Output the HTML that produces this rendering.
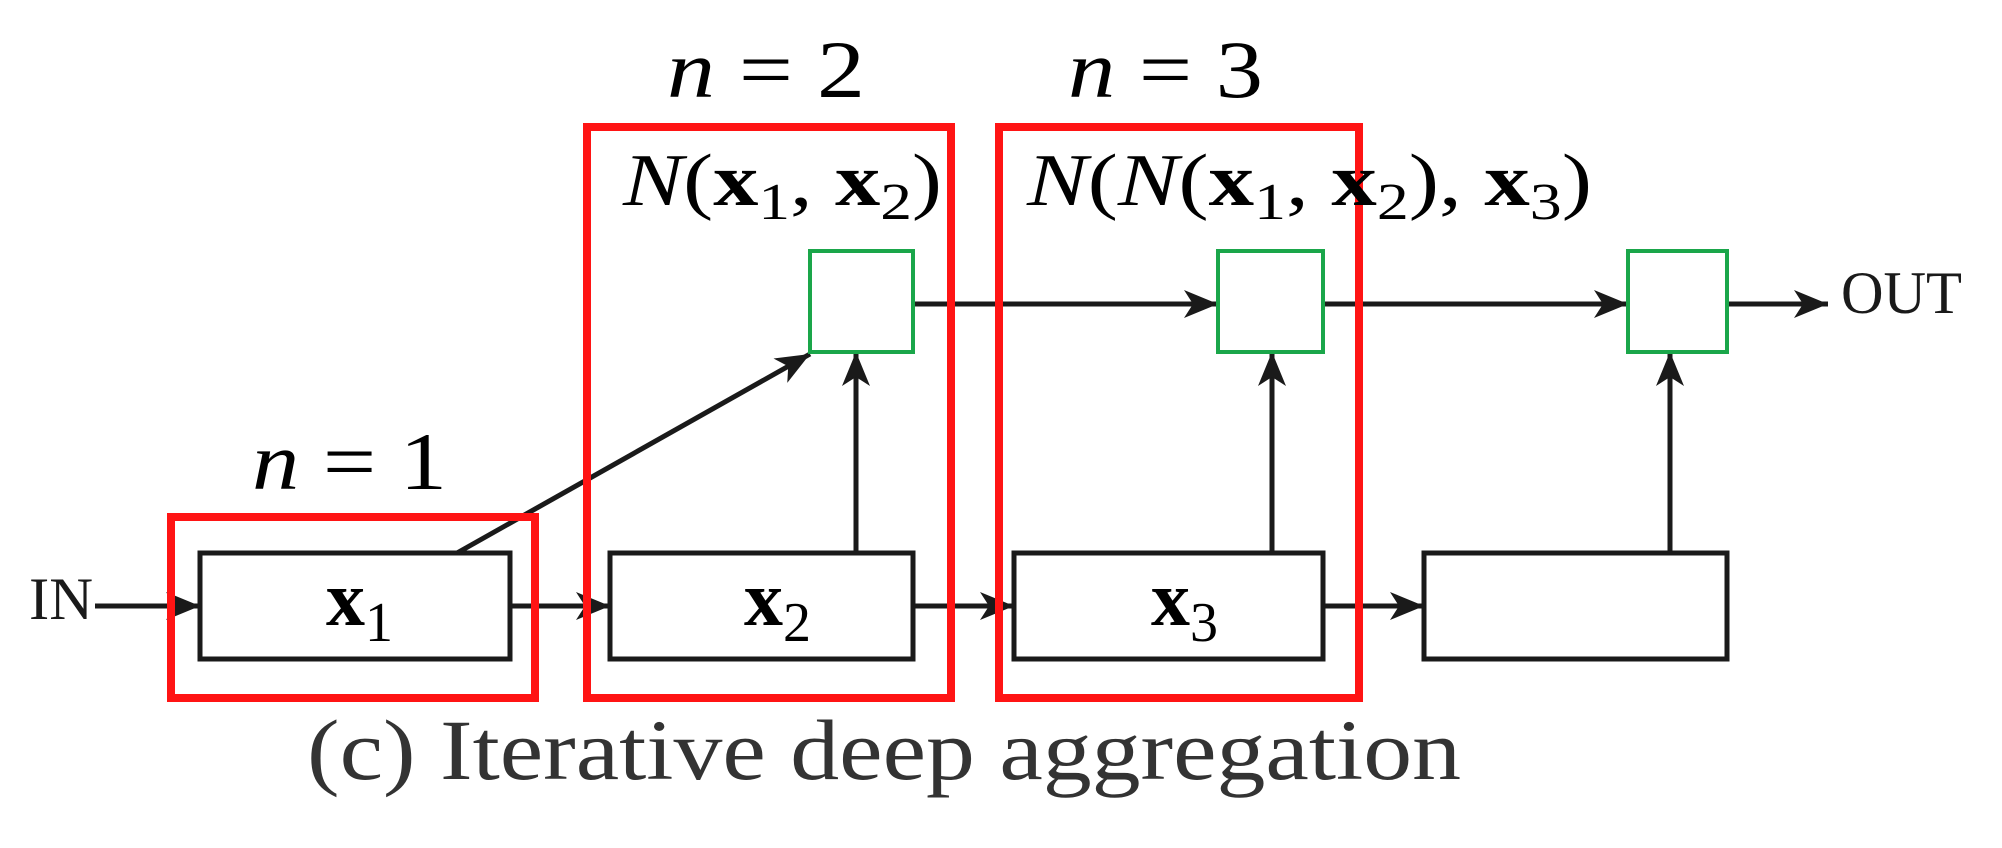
<!DOCTYPE html>
<html><head><meta charset="utf-8"><style>html,body{margin:0;padding:0;background:#fff}svg{display:block}</style></head>
<body>
<svg width="2002" height="848" viewBox="0 0 2002 848" xmlns="http://www.w3.org/2000/svg">
<defs>
<marker id="a" markerUnits="userSpaceOnUse" markerWidth="40" markerHeight="32" refX="34" refY="16" orient="auto">
<path d="M0,2 L34,16 L0,30 L9,16 Z" fill="#1a1a1a"/>
</marker>
</defs>
<g stroke="#1a1a1a" stroke-width="5" fill="none">
<line x1="95" y1="606" x2="200" y2="606" marker-end="url(#a)"/>
<line x1="510" y1="606" x2="610" y2="606" marker-end="url(#a)"/>
<line x1="913" y1="606" x2="1014" y2="606" marker-end="url(#a)"/>
<line x1="1323" y1="606" x2="1424" y2="606" marker-end="url(#a)"/>
<rect x="200" y="553" width="310" height="106"/>
<rect x="610" y="553" width="303" height="106"/>
<rect x="1014" y="553" width="309" height="106"/>
<rect x="1424" y="553" width="303" height="106"/>
<line x1="457" y1="553" x2="810" y2="354" marker-end="url(#a)"/>
<line x1="856" y1="553" x2="856" y2="352" marker-end="url(#a)"/>
<line x1="1272" y1="553" x2="1272" y2="352" marker-end="url(#a)"/>
<line x1="1670" y1="553" x2="1670" y2="352" marker-end="url(#a)"/>
<line x1="913" y1="304" x2="1218" y2="304" marker-end="url(#a)"/>
<line x1="1323" y1="304" x2="1628" y2="304" marker-end="url(#a)"/>
<line x1="1727" y1="304" x2="1828" y2="304" marker-end="url(#a)"/>
</g>
<g stroke="#1aa64a" stroke-width="4" fill="#fff">
<rect x="810" y="251" width="103" height="101"/>
<rect x="1218" y="251" width="105" height="101"/>
<rect x="1628" y="251" width="99" height="101"/>
</g>
<g stroke="#ff1414" stroke-width="8" fill="none">
<rect x="171" y="517" width="364" height="181"/>
<rect x="587" y="127" width="364" height="571"/>
<rect x="999" y="127" width="360" height="571"/>
</g>
<g font-family="Liberation Serif, serif" fill="#1a1a1a">
<text x="29" y="619" font-size="60" textLength="64" lengthAdjust="spacingAndGlyphs">IN</text>
<text x="1841" y="313" font-size="60" textLength="121" lengthAdjust="spacingAndGlyphs">OUT</text>
</g>
<g font-family="Liberation Serif, serif" fill="#000">
<text x="326" y="625" font-size="78" font-weight="bold">x<tspan font-size="56" font-weight="normal" dy="16">1</tspan></text>
<text x="744" y="625" font-size="78" font-weight="bold">x<tspan font-size="56" font-weight="normal" dy="16">2</tspan></text>
<text x="1151" y="625" font-size="78" font-weight="bold">x<tspan font-size="56" font-weight="normal" dy="16">3</tspan></text>
<text x="252" y="489" font-size="82" textLength="195" lengthAdjust="spacingAndGlyphs"><tspan font-style="italic">n</tspan> = 1</text>
<text x="667" y="97" font-size="82" textLength="198" lengthAdjust="spacingAndGlyphs"><tspan font-style="italic">n</tspan> = 2</text>
<text x="1068" y="97" font-size="82" textLength="195" lengthAdjust="spacingAndGlyphs"><tspan font-style="italic">n</tspan> = 3</text>
<text x="623" y="205" font-size="74" textLength="319" lengthAdjust="spacingAndGlyphs"><tspan font-style="italic">N</tspan>(<tspan font-weight="bold">x</tspan><tspan font-size="52" dy="14">1</tspan><tspan dy="-14">, </tspan><tspan font-weight="bold">x</tspan><tspan font-size="52" dy="14">2</tspan><tspan dy="-14">)</tspan></text>
<text x="1027" y="205" font-size="74" textLength="565" lengthAdjust="spacingAndGlyphs"><tspan font-style="italic">N</tspan>(<tspan font-style="italic">N</tspan>(<tspan font-weight="bold">x</tspan><tspan font-size="52" dy="14">1</tspan><tspan dy="-14">, </tspan><tspan font-weight="bold">x</tspan><tspan font-size="52" dy="14">2</tspan><tspan dy="-14">), </tspan><tspan font-weight="bold">x</tspan><tspan font-size="52" dy="14">3</tspan><tspan dy="-14">)</tspan></text>
</g>
<text x="307" y="779" font-family="Liberation Serif, serif" font-size="86" fill="#333" textLength="1154" lengthAdjust="spacingAndGlyphs">(c) Iterative deep aggregation</text>
</svg>
</body></html>
